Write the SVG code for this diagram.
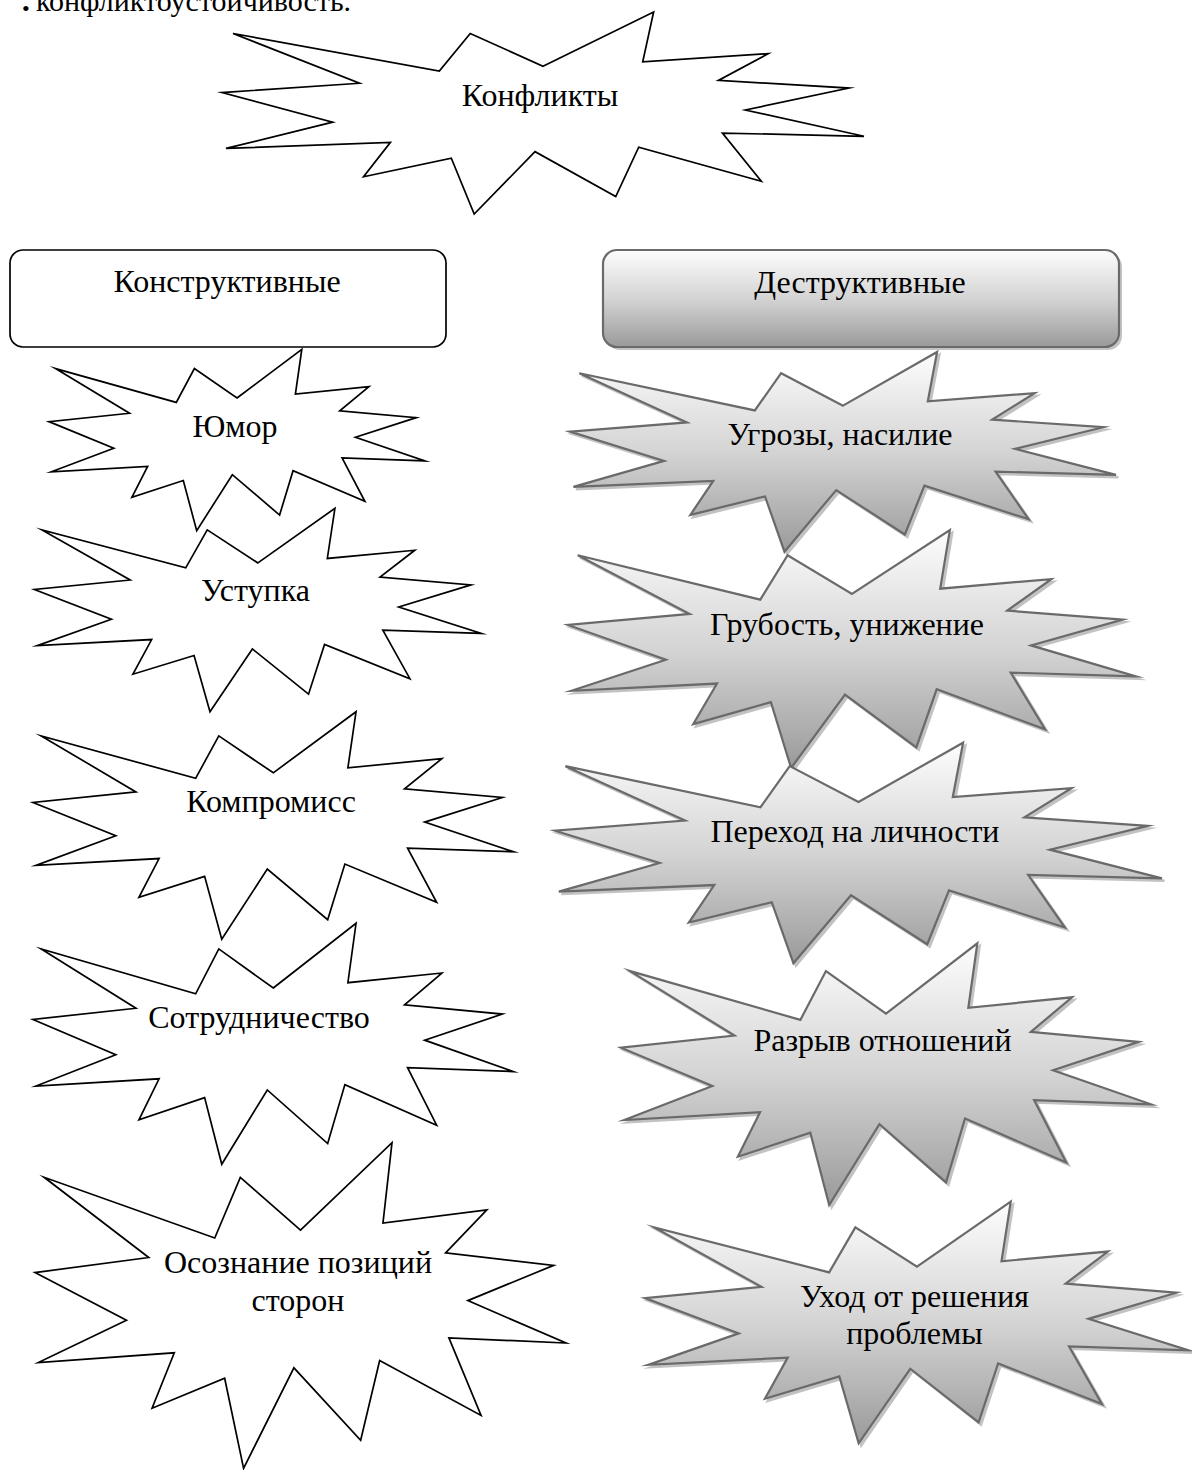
<svg xmlns="http://www.w3.org/2000/svg" xmlns:xlink="http://www.w3.org/1999/xlink" width="1192" height="1470" viewBox="0 0 1192 1470">
<style>
  text { font-family: "Liberation Serif", "Times New Roman", serif; font-size: 32px; fill: #000; text-anchor: middle; }
  .seal { vector-effect: non-scaling-stroke; stroke-linejoin: miter; stroke-miterlimit: 8; }
  .light { fill: #ffffff; stroke: #000000; stroke-width: 1.7; }
  .dark { fill: url(#grad); stroke: #6a6a6a; stroke-width: 2.2; }
  .shadow { fill: #a9a9a9; stroke: #a9a9a9; stroke-width: 2.2; opacity: 0.7; }
</style>
<defs>
  <linearGradient id="grad" x1="0" y1="0" x2="0" y2="1">
    <stop offset="0" stop-color="#fdfdfd"/>
    <stop offset="0.5" stop-color="#d4d4d4"/>
    <stop offset="1" stop-color="#9a9a9a"/>
  </linearGradient>
  <path id="seal" class="seal" d="M10800,5800 L14522,0 L14155,5325 L18380,4457 L16702,7315 L21097,8137 L17607,10475 L21600,13290 L16837,12942 L18145,18095 L14020,14457 L13247,19737 L10532,14935 L8485,21600 L7715,15627 L4762,17617 L5667,13937 L135,14587 L3722,11775 L0,8615 L4627,7617 L370,2295 L7312,6320 L8352,2295 Z"/>
</defs>
<rect width="1192" height="1470" fill="#ffffff"/>

<text id="top-line" x="22" y="11" style="text-anchor:start"><tspan font-size="22" y="16">•</tspan><tspan x="36" y="11" font-size="30">конфликтоустойчивость.</tspan></text>

<g id="connectors"></g>

<g id="n-konflikty">
  <use xlink:href="#seal" class="light" transform="translate(222,12) scale(0.0297222,0.0093519)"/>
  <text x="540" y="106">Конфликты</text>
</g>

<g id="n-konstruktivnye">
  <rect x="10" y="250" width="436" height="97" rx="13" fill="#fff" stroke="#000" stroke-width="1.7"/>
  <text x="227" y="292">Конструктивные</text>
</g>

<g id="n-destruktivnye">
  <rect x="606" y="253" width="516" height="97" rx="14" fill="#a9a9a9" opacity="0.7"/>
  <rect x="603" y="250" width="516" height="97" rx="14" fill="url(#grad)" stroke="#6a6a6a" stroke-width="2.2"/>
  <text x="860" y="293">Деструктивные</text>
</g>

<g id="n-yumor">
  <use xlink:href="#seal" class="light" transform="translate(49,349.3) scale(0.0174074,0.0083981)"/>
  <text x="235" y="437">Юмор</text>
</g>

<g id="n-ustupka">
  <use xlink:href="#seal" class="light" transform="translate(34.4,508.3) scale(0.0206944,0.0094167)"/>
  <text x="255.5" y="601">Уступка</text>
</g>

<g id="n-kompromiss">
  <use xlink:href="#seal" class="light" transform="translate(33,711.7) scale(0.0222454,0.0105370)"/>
  <text x="271" y="812">Компромисс</text>
</g>

<g id="n-sotrudnichestvo">
  <use xlink:href="#seal" class="light" transform="translate(33,923.3) scale(0.0222454,0.0111574)"/>
  <text x="259" y="1027.5">Сотрудничество</text>
</g>

<g id="n-osoznanie">
  <use xlink:href="#seal" class="light" transform="translate(35,1142.7) scale(0.0245833,0.0150741)"/>
  <text x="298" y="1273">Осознание позиций</text>
  <text x="298" y="1311">сторон</text>
</g>

<g id="n-ugrozy">
  <use xlink:href="#seal" class="shadow" transform="translate(572.5,354.5) scale(0.0252778,0.0092454)"/>
  <use xlink:href="#seal" class="dark" transform="translate(570,352) scale(0.0252778,0.0092454)"/>
  <text x="840" y="445">Угрозы, насилие</text>
</g>

<g id="n-grubost">
  <use xlink:href="#seal" class="shadow" transform="translate(570.5,532.5) scale(0.0262963,0.0110185)"/>
  <use xlink:href="#seal" class="dark" transform="translate(568,530) scale(0.0262963,0.0110185)"/>
  <text x="847" y="635">Грубость, унижение</text>
</g>

<g id="n-perehod">
  <use xlink:href="#seal" class="shadow" transform="translate(557.5,745.2) scale(0.0281019,0.0102130)"/>
  <use xlink:href="#seal" class="dark" transform="translate(555,742.7) scale(0.0281019,0.0102130)"/>
  <text x="855" y="841.5">Переход на личности</text>
</g>

<g id="n-razryv">
  <use xlink:href="#seal" class="shadow" transform="translate(623.5,945.8) scale(0.0245370,0.0121157)"/>
  <use xlink:href="#seal" class="dark" transform="translate(621,943.3) scale(0.0245370,0.0121157)"/>
  <text x="882.5" y="1051">Разрыв отношений</text>
</g>

<g id="n-uhod">
  <use xlink:href="#seal" class="shadow" transform="translate(647.5,1204.2) scale(0.0251852,0.0111852)"/>
  <use xlink:href="#seal" class="dark" transform="translate(645,1201.7) scale(0.0251852,0.0111852)"/>
  <text x="914.5" y="1306.5">Уход от решения</text>
  <text x="914.5" y="1343.5">проблемы</text>
</g>
</svg>
